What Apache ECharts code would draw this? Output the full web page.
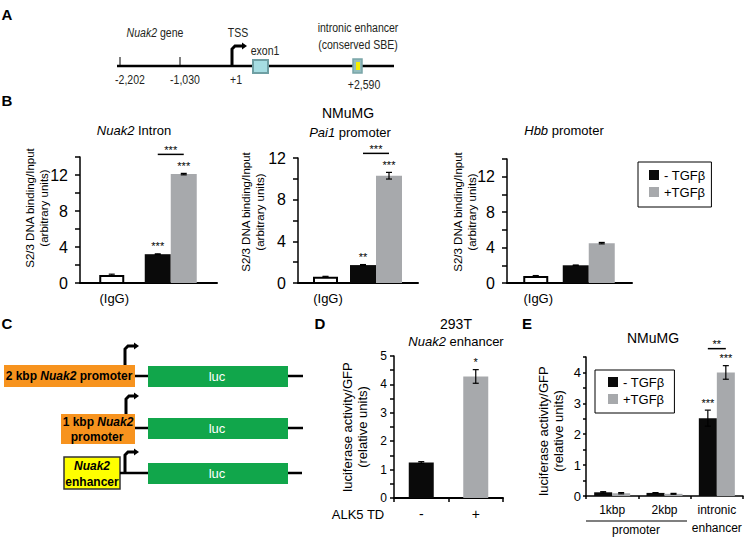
<!DOCTYPE html>
<html><head><meta charset="utf-8">
<script src="https://cdn.jsdelivr.net/npm/echarts@6/dist/echarts.min.js"></script>
<style>html,body{margin:0;padding:0;background:#fff}#c{width:745px;height:537px}</style>
</head><body><div id="c"></div>
<script>
// ---------------- data ----------------
const chipRegions = ['{i|Nuak2} Intron', '{i|Pai1} promoter', '{i|Hbb} promoter'];
const chipCategories = ['(IgG)', 'ChIP'];
const chipIgG = [0.9, 0.6, 0.8];
const chipIgGErr = [0.08, 0.04, 0.04];
const chipMinusTGFb = [3.2, 1.72, 2.0];
const chipMinusErr = [0.04, 0.05, 0.03];
const chipPlusTGFb = [12.1, 10.3, 4.5];
const chipPlusErr = [0.08, 0.32, 0.08];
const chipMinusSig = ['***', '**', ''];
const chipPlusSig = ['***', '***', ''];
const chipPairSig = ['***', '***', ''];
const chipAxisMax = [14, 12, 14];
const chipTicks = [0, 4, 8, 12];

const alkCategories = ['-', '+'];
const alkLuciferase = [1.25, 4.28];
const alkErr = [0.03, 0.24];
const alkSig = ['', '*'];
const alkTicks = [0, 1, 2, 3, 4, 5];

const reporterCategories = ['1kbp', '2kbp', 'intronic enhancer'];
const reporterMinus = [0.12, 0.1, 2.52];
const reporterMinusErr = [0.02, 0.01, 0.26];
const reporterPlus = [0.09, 0.07, 4.0];
const reporterPlusErr = [0.02, 0.015, 0.22];
const reporterMinusSig = ['', '', '***'];
const reporterPlusSig = ['', '', '***'];
const reporterPairSig = ['', '', '**'];
const reporterTicks = [0, 1, 2, 3, 4];

const treatments = ['- TGFβ', '+TGFβ'];

// ---------------- style / layout ----------------
const FONT = 'Liberation Sans, Arial, sans-serif';
const BLACK = '#0a0a0a', GRAY = '#a7a9ac';
const chipGrids = [
  {left: 80, top: 157, width: 137, height: 126},
  {left: 298, top: 158, width: 120, height: 125},
  {left: 507, top: 159, width: 125, height: 124}
];
const IGG_X = [-15, 10], MINUS_X = [-38, -12], PLUS_X = [-12, 14];
const IGG_C = -2.5, MINUS_C = -25, PLUS_C = 1;
const alkGrid = {left: 394, top: 356, width: 109, height: 142};
const repGrid = {left: 586, top: 357, width: 157, height: 144};
const REP_HALF = 9;

const chart = echarts.init(document.getElementById('c'), null, {renderer: 'svg'});

function barRender(x0, x1, fill, stroke) {
  return (params, api) => {
    const c = api.value(0), v = api.value(1);
    const base = api.coord([c, 0]), top = api.coord([c, v]);
    const inset = stroke ? 1 : 0;
    return {type: 'rect', shape: {x: base[0] + x0 + inset, y: top[1] + inset, width: x1 - x0 - 2 * inset, height: base[1] - top[1] - inset},
      style: {fill: fill, stroke: stroke || null, lineWidth: stroke ? 2 : 0}};
  };
}
function errRender(offsets, cap) {
  return (params, api) => {
    const c = api.value(0), v = api.value(1), e = api.value(2);
    const hi = api.coord([c, v + e]), lo = api.coord([c, v - e]);
    const x = hi[0] + offsets[params.dataIndex];
    const st = {stroke: '#000', lineWidth: 1.2};
    return {type: 'group', children: [
      {type: 'line', shape: {x1: x, y1: hi[1], x2: x, y2: lo[1]}, style: st},
      {type: 'line', shape: {x1: x - cap, y1: hi[1], x2: x + cap, y2: hi[1]}, style: st},
      {type: 'line', shape: {x1: x - cap, y1: lo[1], x2: x + cap, y2: lo[1]}, style: st}
    ]};
  };
}
function starText(x, y, t) {
  return {type: 'text', style: {text: t, x: x, y: y, align: 'center', verticalAlign: 'bottom', fontSize: 11, fill: '#000', fontFamily: FONT}};
}
function pairAnnot(minusArr, minusErr, plusArr, plusErr, mSig, pSig, pairSig, mOff, pOff, gapAbove) {
  return (params, api) => {
    const c = api.value(0), k = params.dataIndex;
    const ch = [];
    const pm = api.coord([c, minusArr[k] + minusErr[k]]);
    const pp = api.coord([c, plusArr[k] + plusErr[k]]);
    const xm = pm[0] + mOff, xp = pp[0] + pOff;
    if (mSig[k]) ch.push(starText(xm, pm[1] - 2, mSig[k]));
    if (pSig[k]) ch.push(starText(xp, pp[1] - 2, pSig[k]));
    if (pairSig[k]) {
      const y = pp[1] - gapAbove;
      ch.push({type: 'line', shape: {x1: xm, y1: y, x2: xp, y2: y}, style: {stroke: '#000', lineWidth: 1.5}});
      ch.push(starText((xm + xp) / 2, y + 1, pairSig[k]));
    }
    return {type: 'group', children: ch};
  };
}

const grid = [], xAxis = [], yAxis = [], series = [];
const axisLineStyle = {color: '#000', width: 1.5};

chipGrids.forEach((g, i) => {
  grid.push(g);
  xAxis.push({gridIndex: i, type: 'category', data: chipCategories,
    axisLine: {lineStyle: {color: '#000', width: 2}}, axisTick: {show: false},
    axisLabel: {interval: 0, formatter: (v, idx) => idx === 0 ? v : '', color: '#000', fontSize: 13, margin: 9, fontFamily: FONT}});
  yAxis.push({gridIndex: i, type: 'value', min: 0, max: chipAxisMax[i], interval: 2,
    axisLine: {show: true, lineStyle: axisLineStyle}, axisTick: {show: true, length: 5, lineStyle: axisLineStyle},
    splitLine: {show: false},
    axisLabel: {formatter: v => chipTicks.includes(v) ? String(v) : '', color: '#000', fontSize: 16, margin: 12, fontFamily: FONT}});
  series.push({type: 'custom', xAxisIndex: i, yAxisIndex: i, renderItem: barRender(IGG_X[0], IGG_X[1], '#fff', '#000'), data: [[0, chipIgG[i]]], z: 3});
  series.push({type: 'custom', name: treatments[0], itemStyle: {color: BLACK}, xAxisIndex: i, yAxisIndex: i, renderItem: barRender(MINUS_X[0], MINUS_X[1], BLACK), data: [[1, chipMinusTGFb[i]]]});
  series.push({type: 'custom', name: treatments[1], itemStyle: {color: GRAY}, xAxisIndex: i, yAxisIndex: i, renderItem: barRender(PLUS_X[0], PLUS_X[1], GRAY), data: [[1, chipPlusTGFb[i]]]});
  series.push({type: 'custom', xAxisIndex: i, yAxisIndex: i, renderItem: errRender([IGG_C, MINUS_C, PLUS_C], 3), z: 4,
    data: [[0, chipIgG[i], chipIgGErr[i]], [1, chipMinusTGFb[i], chipMinusErr[i]], [1, chipPlusTGFb[i], chipPlusErr[i]]]});
  series.push({type: 'custom', xAxisIndex: i, yAxisIndex: i, z: 5,
    renderItem: (params, api) => pairAnnot([chipMinusTGFb[i]], [chipMinusErr[i]], [chipPlusTGFb[i]], [chipPlusErr[i]],
      [chipMinusSig[i]], [chipPlusSig[i]], [chipPairSig[i]], MINUS_C, PLUS_C, 19)({dataIndex: 0}, api),
    data: [[1, chipPlusTGFb[i]]]});
});

// D panel
grid.push(alkGrid);
xAxis.push({gridIndex: 3, type: 'category', data: alkCategories,
  axisLine: {lineStyle: {color: '#000', width: 2}}, axisTick: {show: true, length: 4, lineStyle: axisLineStyle},
  axisLabel: {interval: 0, color: '#000', fontSize: 14, margin: 9, fontFamily: FONT}});
yAxis.push({gridIndex: 3, type: 'value', min: 0, max: 5, interval: 0.5,
  axisLine: {show: true, lineStyle: axisLineStyle}, axisTick: {show: true, length: 4, lineStyle: axisLineStyle},
  splitLine: {show: false},
  axisLabel: {formatter: v => alkTicks.includes(v) ? String(v) : '', color: '#000', fontSize: 12, margin: 7, fontFamily: FONT}});
series.push({type: 'bar', xAxisIndex: 3, yAxisIndex: 3, barWidth: 25, data: alkLuciferase,
  itemStyle: {color: p => [BLACK, GRAY][p.dataIndex]}});
series.push({type: 'custom', xAxisIndex: 3, yAxisIndex: 3, z: 4, renderItem: errRender([0, 0], 3),
  data: alkLuciferase.map((v, k) => [k, v, alkErr[k]])});
series.push({type: 'custom', xAxisIndex: 3, yAxisIndex: 3, z: 5,
  renderItem: (params, api) => {
    const k = params.dataIndex;
    const p = api.coord([k, alkLuciferase[k] + alkErr[k]]);
    return alkSig[k] ? starText(p[0], p[1] - 2, alkSig[k]) : {type: 'group', children: []};
  },
  data: alkLuciferase.map((v, k) => [k, v])});

// E panel
grid.push(repGrid);
xAxis.push({gridIndex: 4, type: 'category', data: reporterCategories,
  axisLine: {lineStyle: {color: '#000', width: 1.5}}, axisTick: {show: true, length: 3, lineStyle: axisLineStyle},
  axisLabel: {interval: 0, formatter: v => v.replace(' ', '\n'), color: '#000', fontSize: 12, lineHeight: 18, margin: 5, fontFamily: FONT}});
yAxis.push({gridIndex: 4, type: 'value', min: 0, max: 4.5, interval: 0.5,
  axisLine: {show: true, lineStyle: axisLineStyle}, axisTick: {show: true, length: 3, lineStyle: axisLineStyle},
  splitLine: {show: false},
  axisLabel: {formatter: v => reporterTicks.includes(v) ? String(v) : '', color: '#000', fontSize: 13, margin: 5, fontFamily: FONT}});
series.push({type: 'bar', name: treatments[0], xAxisIndex: 4, yAxisIndex: 4, barWidth: 18, barGap: '0%', data: reporterMinus, itemStyle: {color: BLACK}});
series.push({type: 'bar', name: treatments[1], xAxisIndex: 4, yAxisIndex: 4, barWidth: 18, barGap: '0%', data: reporterPlus, itemStyle: {color: GRAY}});
series.push({type: 'custom', xAxisIndex: 4, yAxisIndex: 4, z: 4, renderItem: errRender([-REP_HALF, -REP_HALF, -REP_HALF], 3),
  data: reporterMinus.map((v, k) => [k, v, reporterMinusErr[k]])});
series.push({type: 'custom', xAxisIndex: 4, yAxisIndex: 4, z: 4, renderItem: errRender([REP_HALF, REP_HALF, REP_HALF], 3),
  data: reporterPlus.map((v, k) => [k, v, reporterPlusErr[k]])});
series.push({type: 'custom', xAxisIndex: 4, yAxisIndex: 4, z: 5,
  renderItem: pairAnnot(reporterMinus, reporterMinusErr, reporterPlus, reporterPlusErr, reporterMinusSig, reporterPlusSig, reporterPairSig, -REP_HALF, REP_HALF, 17),
  data: reporterPlus.map((v, k) => [k, v])});

// ---------------- graphics (schematics, titles) ----------------
function txt(text, x, y, opt) {
  return {type: 'text', z: 10, style: Object.assign({text: text, x: x, y: y, align: 'center', verticalAlign: 'middle',
    fontSize: 13, fill: '#000', fontFamily: FONT}, opt || {})};
}
// condensed text for the gene schematic (panel A)
function ntxt(text, x, y) {
  return {type: 'text', z: 10, x: x, y: y, scaleX: 0.78,
    style: {text: text, x: 0, y: 0, align: 'center', verticalAlign: 'middle', fontSize: 13.5, fill: '#231f20', fontFamily: FONT,
      rich: {i: {fontStyle: 'italic', fontSize: 13.5, fontFamily: FONT, fill: '#231f20'}}}};
}
function vtxt(text, x, y, size) {
  return {type: 'text', z: 10, x: x, y: y, rotation: Math.PI / 2,
    style: {text: text, x: 0, y: 0, align: 'center', verticalAlign: 'middle', fontSize: size, lineHeight: size + 2, fill: '#000', fontFamily: FONT}};
}
function letter(t, x, y) { return txt(t, x, y, {fontSize: 15, fontWeight: 'bold'}); }
function arrow(x, yBottom, yTop, xEnd) {
  return [
    {type: 'polyline', shape: {points: [[x, yBottom], [x, yTop + 3], [x + 3, yTop], [xEnd - 4, yTop]]}, style: {stroke: '#000', lineWidth: 3, fill: null}},
    {type: 'polygon', shape: {points: [[xEnd - 5, yTop - 3.5], [xEnd, yTop], [xEnd - 5, yTop + 3.5]]}, style: {fill: '#000'}}
  ];
}
const italicRich = {rich: {i: {fontStyle: 'italic', fontFamily: FONT, fontSize: 13}}};
const boldRich = {fontWeight: 'bold', fontSize: 12, rich: {bi: {fontStyle: 'italic', fontWeight: 'bold', fontSize: 12, fontFamily: FONT}}};

const graphic = [
  // Panel A
  letter('A', 7, 14),
  {type: 'line', shape: {x1: 117, y1: 66, x2: 394, y2: 66}, style: {stroke: '#000', lineWidth: 2.5}},
  {type: 'line', shape: {x1: 120, y1: 57, x2: 120, y2: 66}, style: {stroke: '#000', lineWidth: 1}},
  {type: 'line', shape: {x1: 180, y1: 57, x2: 180, y2: 66}, style: {stroke: '#000', lineWidth: 1}},
  ...arrow(232, 66, 46, 247),
  {type: 'rect', shape: {x: 253, y: 60, width: 15, height: 13}, style: {fill: '#a6dde2', stroke: '#6f9fa3', lineWidth: 2}},
  {type: 'rect', shape: {x: 353, y: 59, width: 9, height: 14}, style: {fill: '#93bcbf', stroke: '#7aa5a8', lineWidth: 1.5}},
  {type: 'rect', shape: {x: 356, y: 62, width: 4, height: 8}, style: {fill: '#f4ee00'}},
  ntxt('{i|Nuak2} gene', 155, 33),
  ntxt('TSS', 238, 33),
  ntxt('exon1', 265, 51),
  ntxt('intronic enhancer', 358, 28),
  ntxt('(conserved SBE)', 358, 45),
  ntxt('-2,202', 130, 80),
  ntxt('-1,030', 185, 80),
  ntxt('+1', 236, 80),
  ntxt('+2,590', 364, 85),
  // Panel B
  letter('B', 7, 100),
  txt('NMuMG', 348, 113, {fontSize: 14}),
  txt(chipRegions[0], 134, 130, italicRich),
  txt(chipRegions[1], 350, 132, italicRich),
  txt(chipRegions[2], 564, 130, italicRich),
  vtxt('S2/3 DNA binding/Input\n(arbitrary units)', 37, 208, 11.5),
  vtxt('S2/3 DNA binding/Input\n(arbitrary units)', 253, 212, 11.5),
  vtxt('S2/3 DNA binding/Input\n(arbitrary units)', 465, 212, 11.5),
  // Panel C
  letter('C', 7, 323),
  {type: 'rect', shape: {x: 4, y: 365, width: 131, height: 22}, style: {fill: '#f7931e'}},
  txt('2 kbp {bi|Nuak2} promoter', 69, 376, boldRich),
  {type: 'line', shape: {x1: 135, y1: 376, x2: 148, y2: 376}, style: {stroke: '#000', lineWidth: 2.5}},
  {type: 'rect', shape: {x: 148, y: 366, width: 140, height: 21}, style: {fill: '#11a64b'}},
  txt('luc', 217, 376, {fill: '#fff', fontSize: 13}),
  {type: 'line', shape: {x1: 288, y1: 376, x2: 303, y2: 376}, style: {stroke: '#000', lineWidth: 2.5}},
  ...arrow(125, 365, 346, 139),
  {type: 'rect', shape: {x: 61, y: 414, width: 74, height: 30}, style: {fill: '#f7931e'}},
  txt('1 kbp {bi|Nuak2}', 98, 422, boldRich),
  txt('promoter', 97, 437, boldRich),
  {type: 'line', shape: {x1: 135, y1: 428, x2: 148, y2: 428}, style: {stroke: '#000', lineWidth: 2.5}},
  {type: 'rect', shape: {x: 148, y: 418, width: 140, height: 21}, style: {fill: '#11a64b'}},
  txt('luc', 217, 428, {fill: '#fff', fontSize: 13}),
  {type: 'line', shape: {x1: 288, y1: 428, x2: 303, y2: 428}, style: {stroke: '#000', lineWidth: 2.5}},
  ...arrow(126, 414, 396, 139),
  {type: 'rect', shape: {x: 64, y: 457, width: 56, height: 32}, style: {fill: '#ffff00', stroke: '#333', lineWidth: 1.5}},
  txt('{bi|Nuak2}', 92, 466, boldRich),
  txt('enhancer', 92, 482, boldRich),
  {type: 'line', shape: {x1: 120, y1: 473, x2: 148, y2: 473}, style: {stroke: '#000', lineWidth: 2.5}},
  {type: 'rect', shape: {x: 148, y: 463, width: 140, height: 21}, style: {fill: '#11a64b'}},
  txt('luc', 217, 473, {fill: '#fff', fontSize: 13}),
  {type: 'line', shape: {x1: 288, y1: 473, x2: 302, y2: 473}, style: {stroke: '#000', lineWidth: 2.5}},
  ...arrow(125, 473, 452, 139),
  // Panel D
  letter('D', 320, 323),
  txt('293T', 456, 324, {fontSize: 14}),
  txt('{i|Nuak2} enhancer', 456, 341, italicRich),
  txt('ALK5 TD', 358, 514, {fontSize: 13}),
  vtxt('luciferase activity/GFP\n(relative units)', 355, 427, 13),
  // Panel E
  letter('E', 527, 323),
  txt('NMuMG', 653, 338, {fontSize: 14}),
  vtxt('luciferase activity/GFP\n(relative units)', 551, 431, 13),
  {type: 'line', shape: {x1: 586, y1: 521, x2: 687, y2: 521}, style: {stroke: '#000', lineWidth: 1.2}},
  txt('promoter', 636, 530, {fontSize: 12})
];

const legendBase = {orient: 'vertical', data: treatments, icon: 'rect', itemWidth: 10, itemHeight: 10,
  borderColor: '#000', borderWidth: 1, selectedMode: false,
  textStyle: {fontSize: 13, lineHeight: 16, color: '#000', fontFamily: FONT}};

chart.setOption({
  animation: false,
  backgroundColor: '#fff',
  grid: grid, xAxis: xAxis, yAxis: yAxis, series: series,
  legend: [
    Object.assign({}, legendBase, {left: 638, top: 162, itemGap: 1, padding: [5, 6, 7, 11]}),
    Object.assign({}, legendBase, {left: 595, top: 370, itemGap: 1, padding: [4, 10, 6, 13]})
  ],
  graphic: graphic
});
</script>
</body></html>
